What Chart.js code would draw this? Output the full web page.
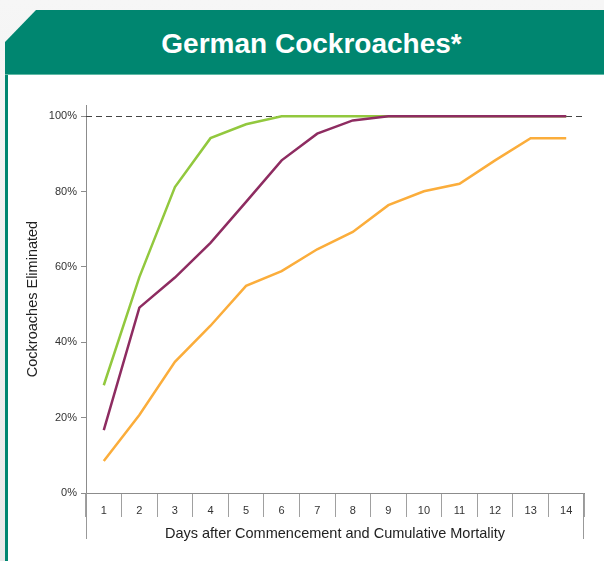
<!DOCTYPE html>
<html>
<head>
<meta charset="utf-8">
<script src="https://cdn.jsdelivr.net/npm/chart.js@4/dist/chart.umd.min.js"></script>
<style>
  html, body { margin: 0; padding: 0; }
  body { width: 604px; height: 561px; position: relative; overflow: hidden;
         background: linear-gradient(#f6f6f6, #e9e9e9); font-family: "Liberation Sans", Arial, sans-serif; }
  #panel { position: absolute; left: 5px; top: 60px; width: 599px; height: 501px;
           background: #fff; border-left: 3px solid #008670; box-sizing: border-box; }
  #header { position: absolute; left: 5px; top: 10px; width: 599px; height: 65px; background: #008670;
            clip-path: polygon(31px 0, 100% 0, 100% 100%, 0 100%, 0 32px);
            border-bottom: 1px solid #5fb9a5; box-sizing: border-box; padding-left: 14px;
            color: #fff; font-weight: bold; font-size: 28px; text-align: center; line-height: 68px; }
  #plot { position: absolute; left: 0; top: 0; }
</style>
</head>
<body>
<div id="panel"></div>
<div id="header">German Cockroaches*</div>
<canvas id="plot" width="604" height="561"></canvas>
<script>
// Dias (categorias)
let dias = ['1','2','3','4','5','6','7','8','9','10','11','12','13','14'];

// Mortalidad acumulada en %
let serieVerde   = [28.6, 57.3, 81.2, 94.2, 97.9, 100, 100, 100, 100, 100, 100, 100, 100, 100];
let serieMorada  = [16.7, 49.2, 57.2, 66.4, 77.3, 88.3, 95.4, 98.9, 100, 100, 100, 100, 100, 100];
let serieNaranja = [8.5, 20.7, 34.8, 44.4, 55.0, 58.9, 64.7, 69.3, 76.4, 80.1, 82.1, 88.3, 94.2, 94.2];

// Marcas del eje y
let ticksY = [0, 20, 40, 60, 80, 100];
let lineaCompleta = 100;

let fuente = '"Liberation Sans", Arial, sans-serif';

//Plugin: linea punteada en 100% y prolongacion de los ejes hacia abajo
let extras = {
  id: 'extras',
  beforeDatasetsDraw(chart) {
    let {ctx, chartArea} = chart;
    let y = chart.scales.y.getPixelForValue(lineaCompleta);
    ctx.save();
    ctx.strokeStyle = '#444';
    ctx.lineWidth = 1;
    ctx.setLineDash([6, 4]);
    ctx.beginPath();
    ctx.moveTo(chartArea.left, Math.round(y) + 0.5);
    ctx.lineTo(chartArea.right, Math.round(y) + 0.5);
    ctx.stroke();
    ctx.restore();
  },
  afterDraw(chart) {
    let {ctx, chartArea} = chart;
    ctx.save();
    ctx.strokeStyle = '#999';
    ctx.lineWidth = 1;
    ctx.beginPath();
    ctx.moveTo(chartArea.left + 0.5, chartArea.bottom);
    ctx.lineTo(chartArea.left + 0.5, chartArea.bottom + 46);
    ctx.moveTo(chartArea.right - 0.5, chartArea.bottom);
    ctx.lineTo(chartArea.right - 0.5, chartArea.bottom + 46);
    ctx.stroke();
    ctx.restore();
  }
};

let config = {
  type: 'line',
  data: {
    labels: dias,
    datasets: [
      { label: 'Morada', data: serieMorada, borderColor: '#8e2c61', order: 1 },
      { label: 'Verde', data: serieVerde, borderColor: '#92c83e', order: 2 },
      { label: 'Naranja', data: serieNaranja, borderColor: '#fbad3b', order: 3 }
    ]
  },
  options: {
    responsive: false,
    animation: false,
    layout: { padding: { top: 105, right: 20, left: 0, bottom: 0 } },
    elements: {
      line: { borderWidth: 2.5, tension: 0, fill: false },
      point: { radius: 0 }
    },
    plugins: { legend: { display: false }, tooltip: { enabled: false } },
    scales: {
      x: {
        type: 'category',
        offset: true,
        afterFit: (scale) => { scale.height = 68; },
        border: { color: '#8c8c8c', width: 1 },
        grid: { offset: true, drawOnChartArea: false, drawTicks: true, tickLength: 24, color: '#a0a0a0' },
        ticks: { color: '#333', font: { family: fuente, size: 11 }, padding: -13, maxRotation: 0 },
        title: {
          display: true,
          text: 'Days after Commencement and Cumulative Mortality',
          color: '#222',
          font: { family: fuente, size: 14.5 },
          padding: { top: 0, bottom: 18 }
        }
      },
      y: {
        min: 0,
        max: 103,
        afterFit: (scale) => { scale.width = 86; },
        afterBuildTicks: (scale) => { scale.ticks = ticksY.map(v => ({ value: v })); },
        border: { color: '#8c8c8c', width: 1 },
        grid: { drawOnChartArea: false, drawTicks: true, tickLength: 5, color: '#8c8c8c' },
        ticks: { color: '#333', font: { family: fuente, size: 11 }, padding: 4, callback: (v) => v + '%' },
        title: {
          display: true,
          text: 'Cockroaches Eliminated',
          color: '#222',
          font: { family: fuente, size: 14.5 },
          padding: { top: 24, bottom: 0 }
        }
      }
    }
  },
  plugins: [extras]
};

let chart1 = new Chart(document.getElementById('plot'), config);
</script>
</body>
</html>
